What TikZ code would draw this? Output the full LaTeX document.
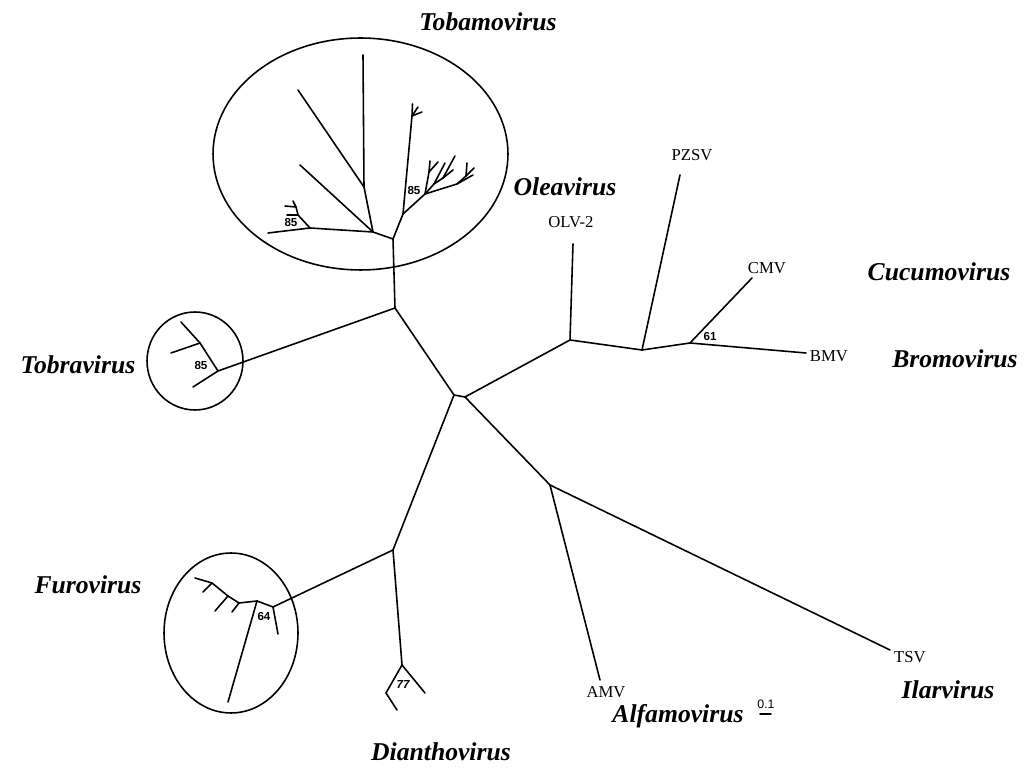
\documentclass[tikz,border=0pt]{standalone}
\usepackage{fontspec}
\setmainfont{Liberation Serif}
\newfontfamily\helvfont{Liberation Sans}
\usetikzlibrary{shapes.geometric}
\begin{document}
\begin{tikzpicture}[
 x=0.02cm,y=-0.02cm,
 branch/.style={line width=0.9pt,line cap=round,line join=round},
 cladering/.style={ellipse,draw,line width=0.9pt,inner sep=0pt},
 genuslabel/.style={font=\fontsize{14.6}{16}\selectfont\bfseries\itshape,inner sep=0pt},
 leaflabel/.style={font=\fontsize{9.5}{11}\selectfont,inner sep=0pt},
 bootlabel/.style={font=\helvfont\fontsize{6.6}{8}\selectfont\bfseries,inner sep=0pt}
]
\useasboundingbox (0,0) rectangle (1029,773);
% backbone
\coordinate (rootl) at (454,395);
\coordinate (rootr) at (465,397);
\coordinate (tobjoin) at (395,308);
\coordinate (olejoin) at (570,340);
\coordinate (pzjoin) at (642,350);
\coordinate (cmjoin) at (690,343);
\coordinate (ilarjoin) at (550,485);
\coordinate (furojoin) at (393,550);
\draw[branch] (rootl)--(rootr);
\draw[branch] (rootl)--(tobjoin);
\draw[branch] (rootl)--(furojoin);
\draw[branch] (rootr)--(olejoin);
\draw[branch] (rootr)--(ilarjoin);
% bromoviridae side
\coordinate (olv) at (573,244);
\coordinate (pzsv) at (680,175);
\coordinate (cmv) at (752,278);
\coordinate (bmv) at (806,353);
\coordinate (amv) at (600,680);
\coordinate (tsv) at (890,650);
\draw[branch] (olejoin)--(olv);
\draw[branch] (olejoin)--(pzjoin);
\draw[branch] (pzjoin)--(pzsv);
\draw[branch] (pzjoin)--(cmjoin);
\draw[branch] (cmjoin)--(cmv);
\draw[branch] (cmjoin)--(bmv);
\draw[branch] (ilarjoin)--(amv);
\draw[branch] (ilarjoin)--(tsv);
% tobamovirus
\coordinate (tobabase) at (393,239);
\coordinate (tobaleft) at (373,232);
\coordinate (tobaright) at (403,214);
\coordinate (tobamid) at (364,187);
\coordinate (tobafork) at (310,228);
\coordinate (tobatwig) at (298,215);
\coordinate (tobatwigup) at (296,207);
\coordinate (tobatop) at (412,116);
\coordinate (tobafan) at (425,194);
\coordinate (fana) at (429,172);
\coordinate (fanb) at (434,184);
\coordinate (fanc) at (443,178);
\coordinate (fand) at (457,184);
\coordinate (fane) at (466,176);
\draw[branch] (tobjoin)--(tobabase);
\draw[branch] (tobabase)--(tobaleft);
\draw[branch] (tobabase)--(tobaright);
\draw[branch] (tobaleft)--(tobamid);
\draw[branch] (tobamid)--(363,55);
\draw[branch] (tobamid)--(298,90);
\draw[branch] (tobaleft)--(300,165);
\draw[branch] (tobaleft)--(tobafork);
\draw[branch] (tobafork)--(268,233);
\draw[branch] (tobafork)--(tobatwig);
\draw[branch] (tobatwig)--(287,215);
\draw[branch] (tobatwig)--(tobatwigup);
\draw[branch] (tobatwigup)--(285,206);
\draw[branch] (tobatwigup)--(293,201);
\draw[branch] (tobaright)--(tobatop);
\draw[branch] (tobatop)--(412.5,104);
\draw[branch] (tobatop)--(418,107);
\draw[branch] (tobatop)--(422,112);
\draw[branch] (tobaright)--(tobafan);
\draw[branch] (tobafan)--(fana);
\draw[branch] (fana)--(430,161);
\draw[branch] (fana)--(438,162);
\draw[branch] (tobafan)--(fanb);
\draw[branch] (fanb)--(445,163);
\draw[branch] (fanb)--(fanc);
\draw[branch] (fanc)--(455,156);
\draw[branch] (fanc)--(453,170);
\draw[branch] (tobafan)--(fand);
\draw[branch] (fand)--(473,175);
\draw[branch] (fand)--(fane);
\draw[branch] (fane)--(467,163);
\draw[branch] (fane)--(474,168);
% tobravirus
\coordinate (trobase) at (218,371);
\coordinate (trofork) at (200,343);
\draw[branch] (tobjoin)--(trobase);
\draw[branch] (trobase)--(193,387);
\draw[branch] (trobase)--(trofork);
\draw[branch] (trofork)--(171,353);
\draw[branch] (trofork)--(181,322);
% furovirus
\coordinate (furobase) at (273,607);
\coordinate (furoa) at (257,601);
\coordinate (furob) at (239,603);
\coordinate (furoc) at (228,596);
\coordinate (furod) at (212,583);
\draw[branch] (furojoin)--(furobase);
\draw[branch] (furobase)--(278,634);
\draw[branch] (furobase)--(furoa);
\draw[branch] (furoa)--(228,702);
\draw[branch] (furoa)--(furob);
\draw[branch] (furob)--(232,612);
\draw[branch] (furob)--(furoc);
\draw[branch] (furoc)--(215,611);
\draw[branch] (furoc)--(furod);
\draw[branch] (furod)--(203,592);
\draw[branch] (furod)--(195,578);
% dianthovirus
\coordinate (diabase) at (402,665);
\coordinate (diafork) at (386,693);
\draw[branch] (furojoin)--(diabase);
\draw[branch] (diabase)--(425,693);
\draw[branch] (diabase)--(diafork);
\draw[branch] (diafork)--(397,710);
% clade outlines
\node[cladering,minimum width=5.9cm,minimum height=4.64cm] (tobaring) at (360.5,154) {};
\node[cladering,minimum width=1.92cm,minimum height=1.96cm] (troring) at (195,361) {};
\node[cladering,minimum width=2.68cm,minimum height=3.2cm] (furoring) at (231,633) {};
% labels
\node[genuslabel] (tobamo) at (488,22) {Tobamovirus};
\node[genuslabel] (olea) at (565,187) {Oleavirus};
\node[genuslabel] (cucumo) at (939,272) {Cucumovirus};
\node[genuslabel] (bromo) at (955,359) {Bromovirus};
\node[genuslabel] (tobra) at (78,365) {Tobravirus};
\node[genuslabel] (furo) at (88,585) {Furovirus};
\node[genuslabel] (ilar) at (948,690) {Ilarvirus};
\node[genuslabel] (alfamo) at (678,716) {Alfamovirus};
\node[genuslabel] (diantho) at (441,752) {Dianthovirus};
\node[leaflabel] (olvname) at (571,222) {OLV-2};
\node[leaflabel] (pzsvname) at (692,155) {PZSV};
\node[leaflabel] (cmvname) at (767,268) {CMV};
\node[leaflabel] (bmvname) at (829,356) {BMV};
\node[leaflabel] (tsvname) at (910,657) {TSV};
\node[leaflabel] (amvname) at (606,692) {AMV};
\node[bootlabel] (boota) at (291,223) {85};
\node[bootlabel] (bootb) at (414,191) {85};
\node[bootlabel] (bootc) at (201,366) {85};
\node[bootlabel] (bootd) at (710,337) {61};
\node[bootlabel] (boote) at (264,617) {64};
\node[bootlabel,font=\helvfont\fontsize{6.6}{8}\selectfont\bfseries\itshape] (bootf) at (403,685) {77};
% scale
\node[bootlabel,font=\helvfont\fontsize{7}{8}\selectfont] (scaletext) at (766,704) {0.1};
\coordinate (scalel) at (760,714);
\coordinate (scaler) at (771,714);
\draw[branch] (scalel)--(scaler);
\end{tikzpicture}
\end{document}
